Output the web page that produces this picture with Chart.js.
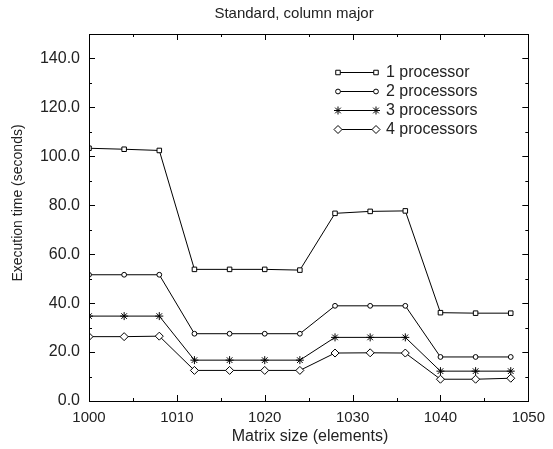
<!DOCTYPE html>
<html>
<head>
<meta charset="utf-8">
<script src="https://cdn.jsdelivr.net/npm/chart.js@4"></script>
<style>
  html,body{margin:0;padding:0;background:#fff;}
  #wrap{width:553px;height:449px;}
</style>
</head>
<body>
<div id="wrap"><canvas id="c" width="553" height="449"></canvas></div>
<script>
/* Standard, column major: execution time vs matrix size */
const sizes = [1000,1004,1008,1012,1016,1020,1024,1028,1032,1036,1040,1044,1048];
const p1 = [103.3,102.9,102.4,53.8,53.8,53.8,53.5,76.7,77.5,77.7,36.1,35.9,35.9];
const p2 = [51.6,51.6,51.6,27.5,27.5,27.5,27.5,38.9,38.9,38.9,18.0,18.0,18.0];
const p3 = [34.7,34.7,34.7,16.7,16.7,16.7,16.7,26.0,26.0,26.0,12.2,12.2,12.2];
const p4 = [26.3,26.3,26.5,12.5,12.5,12.5,12.5,19.6,19.7,19.6,8.9,8.9,9.3];
const seriesLabels = ['1 processor','2 processors','3 processors','4 processors'];
const xTicks = [1000,1010,1020,1030,1040,1050];
const yTicks = [0,20,40,60,80,100,120,140];

const FONT = '"Liberation Sans", Arial, sans-serif';
const styles = [
  {pointStyle:'rect', radius:3.2},
  {pointStyle:'circle', radius:2.4},
  {pointStyle:'star', radius:4},
  {pointStyle:'rectRot', radius:4}
];

const datasets = [p1,p2,p3,p4].map((vals,i)=>({
  label:seriesLabels[i],
  data:sizes.map((x,j)=>({x:x,y:vals[j]})),
  borderColor:'#000',borderWidth:1,
  pointStyle:styles[i].pointStyle,pointRadius:styles[i].radius,
  pointBackgroundColor:'#fff',pointBorderColor:'#000',pointBorderWidth:1,
  tension:0,fill:false
}));

/* frame, inward ticks, titles and in-plot legend, gnuplot style */
const decor = {
  id:'decor',
  afterDatasetsDraw(chart){
    const ctx=chart.ctx, a=chart.chartArea, xs=chart.scales.x, ys=chart.scales.y;
    ctx.save();
    ctx.strokeStyle='#000';ctx.lineWidth=1;
    ctx.strokeRect(Math.round(a.left)+0.5,Math.round(a.top)+0.5,Math.round(a.right-a.left),Math.round(a.bottom-a.top));
    ctx.beginPath();
    for(let v=1000;v<=1050;v+=5){
      const px=Math.round(xs.getPixelForValue(v))+0.5, len=(v%10===0)?6:3;
      ctx.moveTo(px,a.bottom);ctx.lineTo(px,a.bottom-len);
      ctx.moveTo(px,a.top);ctx.lineTo(px,a.top+len);
    }
    for(let v=0;v<=150;v+=10){
      const py=Math.round(ys.getPixelForValue(v))+0.5, len=(v%20===0)?6:3;
      ctx.moveTo(a.left,py);ctx.lineTo(a.left+len,py);
      ctx.moveTo(a.right,py);ctx.lineTo(a.right-len,py);
    }
    ctx.stroke();

    ctx.fillStyle='#222';
    ctx.textAlign='center';ctx.textBaseline='middle';
    ctx.font='15px '+FONT;
    ctx.fillText('Standard, column major',294,14);
    ctx.font='16px '+FONT;
    ctx.fillText('Matrix size (elements)',310,437);
    ctx.font='14px '+FONT;
    ctx.save();
    ctx.translate(18,203);ctx.rotate(-Math.PI/2);
    ctx.fillText('Execution time (seconds)',0,0);
    ctx.restore();

    // legend
    ctx.font='16px '+FONT;
    ctx.textAlign='left';
    chart.data.datasets.forEach((ds,i)=>{
      const y=72+i*19, x0=338, x1=376;
      ctx.beginPath();ctx.strokeStyle='#000';ctx.lineWidth=1;
      ctx.moveTo(x0,y+0.5);ctx.lineTo(x1,y+0.5);ctx.stroke();
      const opt={pointStyle:ds.pointStyle,radius:ds.pointRadius,borderWidth:1};
      ctx.fillStyle='#fff';ctx.strokeStyle='#000';
      Chart.helpers.drawPoint(ctx,opt,x0,y+0.5);
      Chart.helpers.drawPoint(ctx,opt,x1,y+0.5);
      ctx.fillStyle='#222';
      ctx.fillText(ds.label,386,y+1);
    });
    ctx.restore();
  }
};

new Chart(document.getElementById('c'),{
  type:'line',
  data:{datasets},
  plugins:[decor],
  options:{
    responsive:false,animation:false,
    layout:{padding:{left:0,right:18,top:34,bottom:0}},
    plugins:{legend:{display:false},title:{display:false},tooltip:{enabled:false}},
    scales:{
      x:{
        type:'linear',min:1000,max:1050,
        afterBuildTicks:s=>{s.ticks=xTicks.map(v=>({value:v}));},
        afterFit:s=>{s.height=48;},
        grid:{display:false,drawTicks:false},border:{display:false},
        ticks:{padding:8,color:'#222',font:{family:FONT,size:15},maxRotation:0,autoSkip:false,callback:v=>String(v)}
      },
      y:{
        min:0,max:150,
        afterBuildTicks:s=>{s.ticks=yTicks.map(v=>({value:v}));},
        afterFit:s=>{s.width=89;},
        grid:{display:false,drawTicks:false},border:{display:false},
        ticks:{padding:9,color:'#222',font:{family:FONT,size:16},callback:v=>Number(v).toFixed(1)}
      }
    }
  }
});
</script>
</body>
</html>
